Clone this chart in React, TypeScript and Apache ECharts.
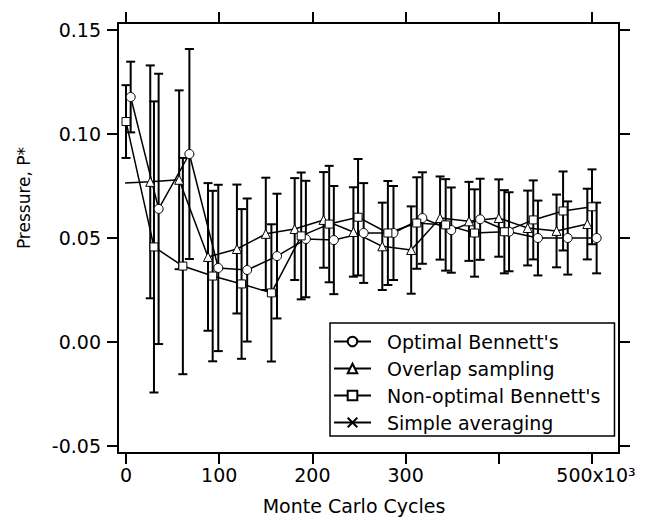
import React, { useEffect, useRef } from "react";
import * as echarts from "echarts";

// Monte Carlo cycles (x10^3)
const circleX = [5, 35, 68, 99, 130, 162, 193, 223, 255, 287, 318, 349, 380, 411, 442, 474, 505];
const circleY = [0.1178, 0.064, 0.0904, 0.0356, 0.0346, 0.0413, 0.0495, 0.049, 0.0524, 0.0524, 0.0596, 0.0538, 0.059, 0.053, 0.05, 0.05, 0.05];
const circleErr = [0.017, 0.065, 0.0505, 0.04, 0.0344, 0.03, 0.028, 0.026, 0.024, 0.0226, 0.022, 0.0205, 0.0195, 0.019, 0.018, 0.0176, 0.017];

const triangleX = [-1, 26, 57, 88, 119, 150, 181, 212, 244, 275, 306, 337, 368, 400, 431, 462, 495];
const triangleY = [0.0765, 0.077, 0.078, 0.0409, 0.0447, 0.052, 0.0543, 0.0587, 0.0529, 0.046, 0.0442, 0.0596, 0.058, 0.0596, 0.0548, 0.0534, 0.0567];
const triangleErr = [0, 0.056, 0.043, 0.0355, 0.031, 0.027, 0.0245, 0.023, 0.0215, 0.021, 0.021, 0.02, 0.019, 0.0186, 0.018, 0.0175, 0.017];

const squareX = [0, 30, 61, 93, 124, 156, 188, 218, 249, 281, 312, 343, 374, 406, 437, 469, 500];
const squareY = [0.106, 0.0457, 0.0365, 0.0317, 0.0279, 0.0236, 0.051, 0.0567, 0.06, 0.0524, 0.0572, 0.0563, 0.0524, 0.053, 0.0587, 0.063, 0.065];
const squareErr = [0.0175, 0.07, 0.052, 0.041, 0.036, 0.033, 0.0305, 0.028, 0.028, 0.025, 0.022, 0.022, 0.021, 0.02, 0.019, 0.019, 0.018];

const xTicks = [0, 100, 200, 300, 400, 500];
const xLabels = [0, 100, 200, 300, 500];
const yTicks = [-0.05, 0, 0.05, 0.1, 0.15];

const seriesNames = ["Optimal Bennett's", "Overlap sampling", "Non-optimal Bennett's", "Simple averaging"];

const FONT = "DejaVu Sans";
const X_MIN = -8.6;
const X_MAX = 529;
const Y_MIN = -0.0534;
const Y_MAX = 0.1534;

function errData(xs: number[], ys: number[], es: number[]) {
  const out: number[][] = [];
  xs.forEach((x, i) => {
    if (es[i] > 0) out.push([x, ys[i] - es[i], ys[i] + es[i]]);
  });
  return out;
}

const renderErr = (params: any, api: any) => {
  const x = api.value(0);
  const lo = api.coord([x, api.value(1)]);
  const hi = api.coord([x, api.value(2)]);
  const hw = 4.5;
  const st = { stroke: "#000", lineWidth: 2 };
  return {
    type: "group",
    children: [
      { type: "line", shape: { x1: lo[0], y1: lo[1], x2: hi[0], y2: hi[1] }, style: st },
      { type: "line", shape: { x1: hi[0] - hw, y1: hi[1], x2: hi[0] + hw, y2: hi[1] }, style: st },
      { type: "line", shape: { x1: lo[0] - hw, y1: lo[1], x2: lo[0] + hw, y2: lo[1] }, style: st },
    ],
  };
};

export default function App() {
  const ref = useRef<HTMLDivElement>(null);
  useEffect(() => {
    document.body.style.margin = "0";
    if (!ref.current) return;
    const chart = echarts.init(ref.current, undefined, { renderer: "svg" });
    const axisLine = { show: true, onZero: false, lineStyle: { color: "#000", width: 2 } };
    const tick = (vals: number[]) => ({ show: true, inside: false, length: 11, lineStyle: { color: "#000", width: 2 }, customValues: vals });
    const lineCommon = {
      type: "line",
      symbolSize: 9,
      lineStyle: { color: "#000", width: 1.5 },
      itemStyle: { color: "#fff", borderColor: "#000", borderWidth: 1 },
      z: 3,
      clip: false,
    };
    const option: any = {
      animation: false,
      backgroundColor: "#fff",
      grid: { left: 118, right: 31, top: 23, bottom: 67, containLabel: false },
      xAxis: [
        {
          type: "value",
          min: X_MIN,
          max: X_MAX,
          axisLine,
          axisTick: tick(xTicks),
          splitLine: { show: false },
          axisLabel: {
            customValues: xLabels,
            margin: 12,
            color: "#000",
            fontFamily: FONT,
            fontSize: 19,
            formatter: (v: number) => (v === 500 ? "{s|500x10³}" : String(v)),
            rich: { s: { fontFamily: FONT, fontSize: 19, color: "#000", padding: [0, 0, 0, 8] } },
          },
        },
        {
          type: "value",
          position: "top",
          min: X_MIN,
          max: X_MAX,
          axisLine,
          axisTick: tick(xTicks),
          splitLine: { show: false },
          axisLabel: { show: false },
        },
      ],
      yAxis: [
        {
          type: "value",
          min: Y_MIN,
          max: Y_MAX,
          axisLine,
          axisTick: tick(yTicks),
          splitLine: { show: false },
          axisLabel: {
            customValues: yTicks,
            margin: 17,
            color: "#000",
            fontFamily: FONT,
            fontSize: 19,
            formatter: (v: number) => v.toFixed(2),
          },
        },
        {
          type: "value",
          position: "right",
          min: Y_MIN,
          max: Y_MAX,
          axisLine,
          axisTick: tick(yTicks),
          splitLine: { show: false },
          axisLabel: { show: false },
        },
      ],
      legend: {
        data: seriesNames,
        orient: "vertical",
        left: 330,
        top: 323,
        itemWidth: 37,
        itemHeight: 12,
        itemGap: 8,
        padding: [9, 14, 4, 3],
        backgroundColor: "#fff",
        borderColor: "#000",
        borderWidth: 1.5,
        borderRadius: 0,
        textStyle: { color: "#000", fontFamily: FONT, fontSize: 19, lineHeight: 19, padding: [0, 0, 0, 11] },
        z: 10,
      },
      graphic: [
        {
          type: "text",
          x: 354,
          y: 506,
          style: { text: "Monte Carlo Cycles", fill: "#000", fontFamily: FONT, fontSize: 19, align: "center", verticalAlign: "middle" },
        },
        {
          type: "text",
          x: 24,
          y: 198,
          rotation: Math.PI / 2,
          style: { text: "Pressure, P*", fill: "#000", fontFamily: FONT, fontSize: 17, align: "center", verticalAlign: "middle" },
        },
      ],
      series: [
        { type: "custom", name: "errCircle", renderItem: renderErr, data: errData(circleX, circleY, circleErr), encode: { x: 0, y: [1, 2] }, z: 1, clip: false },
        { type: "custom", name: "errTriangle", renderItem: renderErr, data: errData(triangleX, triangleY, triangleErr), encode: { x: 0, y: [1, 2] }, z: 1, clip: false },
        { type: "custom", name: "errSquare", renderItem: renderErr, data: errData(squareX, squareY, squareErr), encode: { x: 0, y: [1, 2] }, z: 1, clip: false },
        { ...lineCommon, name: seriesNames[0], symbol: "circle", data: circleX.map((x, i) => [x, circleY[i]]) },
        {
          ...lineCommon,
          name: seriesNames[1],
          symbol: "triangle",
          data: triangleX.map((x, i) => (triangleErr[i] > 0 ? [x, triangleY[i]] : { value: [x, triangleY[i]], symbol: "none" })),
        },
        { ...lineCommon, name: seriesNames[2], symbol: "rect", symbolSize: 8, data: squareX.map((x, i) => [x, squareY[i]]) },
        {
          ...lineCommon,
          name: seriesNames[3],
          symbol: "path://M0,0L10,10M10,0L0,10",
          itemStyle: { color: "#000", borderColor: "#000", borderWidth: 1.5 },
          data: [],
        },
      ],
    };
    chart.setOption(option);
    return () => chart.dispose();
  }, []);
  return <div ref={ref} style={{ width: 650, height: 520 }} />;
}
